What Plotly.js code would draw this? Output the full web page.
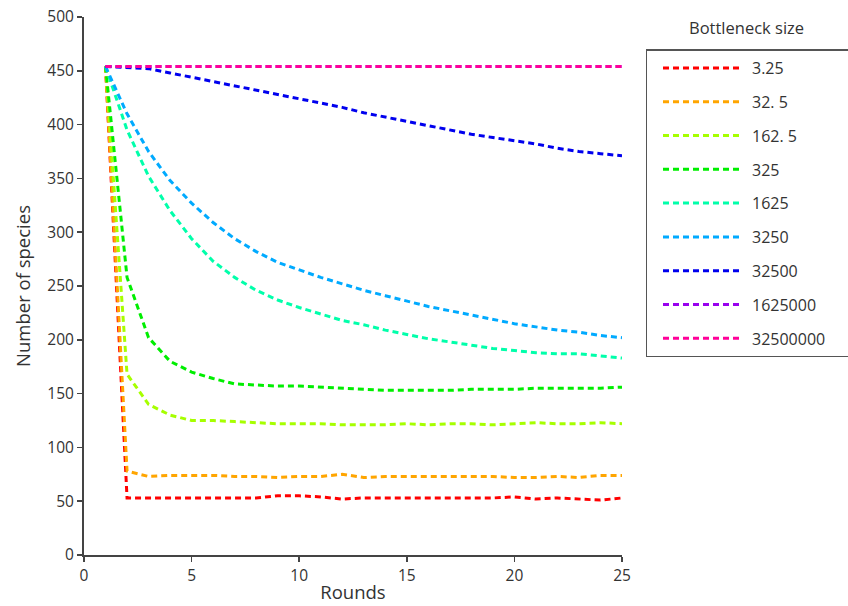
<!DOCTYPE html>
<html>
<head>
<meta charset="utf-8">
<script src="https://cdn.plot.ly/plotly-3.0.1.min.js"></script>
<style>html,body{margin:0;padding:0;background:#fff;}#chart{width:848px;height:606px;}</style>
</head>
<body>
<div id="chart"></div>
<script>
var rounds = [1,2,3,4,5,6,7,8,9,10,11,12,13,14,15,16,17,18,19,20,21,22,23,24,25];
var seriesNames = ["3.25","32. 5","162. 5","325","1625","3250","32500","1625000","32500000"];
var seriesColors = ["#ff0000","#ffa500","#a6ff00","#00ee00","#00ffaa","#00aaff","#0000ee","#9900ee","#ff0099"];

var s3_25 = [454,53,53,53,53,53,53,53,55,55,54,52,53,53,53,53,53,53,53,54,52,53,52,51,53];
var s32_5 = [454,78,73,74,74,74,73,73,72,73,73,75,72,73,73,73,73,73,73,72,72,73,72,74,74];
var s162_5 = [454,168,140,130,125,125,124,123,122,122,122,121,121,121,122,121,122,122,121,122,123,122,122,123,122];
var s325 = [454,258,202,180,170,164,159,158,157,157,156,155,154,153,153,153,153,154,154,154,155,155,155,155,156];
var s1625 = [454,395,352,320,294,273,258,246,237,230,224,218,214,209,205,201,198,195,192,190,188,187,187,185,183];
var s3250 = [454,410,375,348,327,309,294,282,272,265,258,252,246,241,236,231,227,223,219,215,212,209,207,204,202];
var s32500 = [454,453,452,448,444,440,436,432,428,424,420,416,411,407,403,399,395,391,388,385,382,378,375,373,371];
var s1625000 = [454,454,454,454,454,454,454,454,454,454,454,454,454,454,454,454,454,454,454,454,454,454,454,454,454];
var s32500000 = [454,454,454,454,454,454,454,454,454,454,454,454,454,454,454,454,454,454,454,454,454,454,454,454,454];

var allSeries = [s3_25,s32_5,s162_5,s325,s1625,s3250,s32500,s1625000,s32500000];
var xTicks = [0,5,10,15,20,25];
var yTicks = [0,50,100,150,200,250,300,350,400,450,500];

var FONT = "Open Sans, Noto Sans, sans-serif";
var traces = allSeries.map(function(v,i){
  return {
    x: rounds, y: v, type: "scatter", mode: "lines",
    name: seriesNames[i], legendgroup: "g"+i,
    line: {color: seriesColors[i], width: 3, dash: "6px,4px"}
  };
});

var layout = {
  width: 848, height: 606,
  margin: {l: 84, r: 226, t: 17, b: 51},
  paper_bgcolor: "#fff", plot_bgcolor: "#fff",
  font: {family: FONT, size: 16, color: "#333"},
  showlegend: true,
  legend: {
    x: 1.0446, y: 0.9396, xanchor: "left", yanchor: "top",
    bordercolor: "#555", borderwidth: 1.5, bgcolor: "#fff",
    font: {family: FONT, size: 16, color: "#333"},
    tracegroupgap: 10, itemwidth: 94.5
  },
  xaxis: {
    range: [0, 25], tickvals: xTicks, ticktext: xTicks.map(String),
    showgrid: false, zeroline: false, showline: true, linecolor: "#444", linewidth: 2,
    ticks: "outside", ticklen: 5, tickwidth: 1.5, tickcolor: "#444",
    tickfont: {family: FONT, size: 15.5, color: "#333"},
    title: {text: "Rounds", font: {family: FONT, size: 18.5, color: "#333"}, standoff: 1}
  },
  yaxis: {
    range: [0, 500], tickvals: yTicks, ticktext: yTicks.map(String),
    showgrid: false, zeroline: false, showline: true, linecolor: "#444", linewidth: 2,
    ticks: "outside", ticklen: 5, tickwidth: 1.5, tickcolor: "#444",
    tickfont: {family: FONT, size: 15.5, color: "#333"},
    title: {text: "Number of species", font: {family: FONT, size: 18.5, color: "#333"}, standoff: 12}
  },
  annotations: [{
    text: "Bottleneck size", xref: "paper", yref: "paper",
    x: 1.232, y: 0.981, xanchor: "center", yanchor: "middle",
    showarrow: false, font: {family: FONT, size: 16.5, color: "#333"}
  }]
};

Plotly.newPlot("chart", traces, layout, {displayModeBar: false, staticPlot: true}).then(function(gd){
  // lengthen legend line samples and widen legend box to match the reference
  gd.querySelectorAll(".legend .legendlines path").forEach(function(p){
    p.setAttribute("d", "M15.5,0h80");
  });
  var bg = gd.querySelector(".legend rect.bg");
  if (bg) bg.setAttribute("width", 240);
});
</script>
</body>
</html>
